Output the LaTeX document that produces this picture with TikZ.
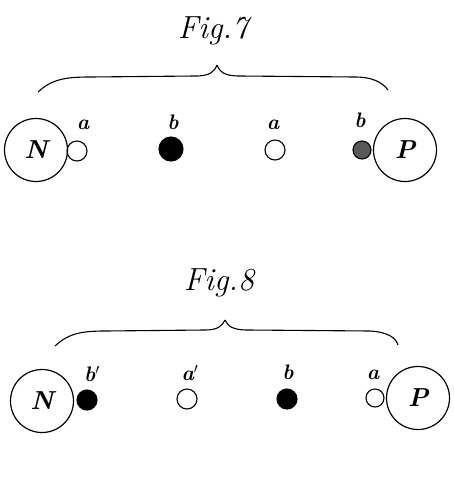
\documentclass[tikz,border=0pt]{standalone}
\usepackage{amssymb}
\usepackage{amsmath}
\usepackage{fontspec}
\usepackage{tikz}
\tikzset{
  pole/.style={draw, circle, line width=1.2pt, minimum size=63pt, inner sep=0pt, font=\fontsize{26}{26}\selectfont\bfseries\itshape},
  ball/.style={draw, circle, line width=1.1pt, minimum size=20pt, inner sep=0pt},
  dark/.style={ball, fill=black},
  shade/.style={ball, fill=black!65},
  lbl/.style={inner sep=0pt, font=\fontsize{21}{21}\selectfont\bfseries\itshape},
  title/.style={inner sep=0pt, font=\fontsize{32}{32}\selectfont\itshape}
}
\begin{document}
\begin{tikzpicture}[x=1pt, y=-1pt]
\useasboundingbox (0, 0) rectangle (454, 480);
\node[title] (fig7) at (213, 31) {Fig.7};
\draw [line width=1.1pt] (38, 92) .. controls (52, 79) and (66, 77) .. (90, 77) -- (195, 76) .. controls (210, 76) and (214, 72) .. (217, 65);
\draw [line width=1.1pt] (217, 65) .. controls (220, 72) and (224, 76) .. (240, 76) -- (355, 77) .. controls (372, 77) and (382, 82) .. (388, 90);
\node[pole] (n7) at (36, 150) {N};
\node[ball] (a7) at (77, 151) {};
\node[dark, minimum size=24pt] (b7) at (171, 149) {};
\node[ball] (c7) at (275, 150) {};
\node[shade, minimum size=18pt] (d7) at (362, 150) {};
\node[pole] (p7) at (405, 150) {P};
\node[lbl] (la7) at (83, 125) {a};
\node[lbl] (lb7) at (173, 122) {b};
\node[lbl] (lc7) at (273, 125) {a};
\node[lbl] (ld7) at (360, 120) {b};
\node[title] (fig8) at (219, 283) {Fig.8};
\draw [line width=1.1pt] (55, 346) .. controls (68, 334) and (80, 331) .. (105, 331) -- (205, 330) .. controls (218, 330) and (222, 326) .. (225, 320);
\draw [line width=1.1pt] (225, 320) .. controls (228, 326) and (232, 330) .. (248, 330) -- (370, 331) .. controls (388, 332) and (396, 338) .. (398, 345);
\node[pole] (n8) at (42, 401) {N};
\node[dark] (a8) at (87, 400) {};
\node[ball] (b8) at (187, 399) {};
\node[dark] (c8) at (287, 399) {};
\node[ball, minimum size=18pt] (d8) at (375, 398) {};
\node[pole] (p8) at (418, 398) {P};
\node[lbl] (la8) at (92, 374) {b$'$};
\node[lbl] (lb8) at (190, 373) {a$'$};
\node[lbl] (lc8) at (288, 372) {b};
\node[lbl] (ld8) at (373, 375) {a};
\end{tikzpicture}
\end{document}
